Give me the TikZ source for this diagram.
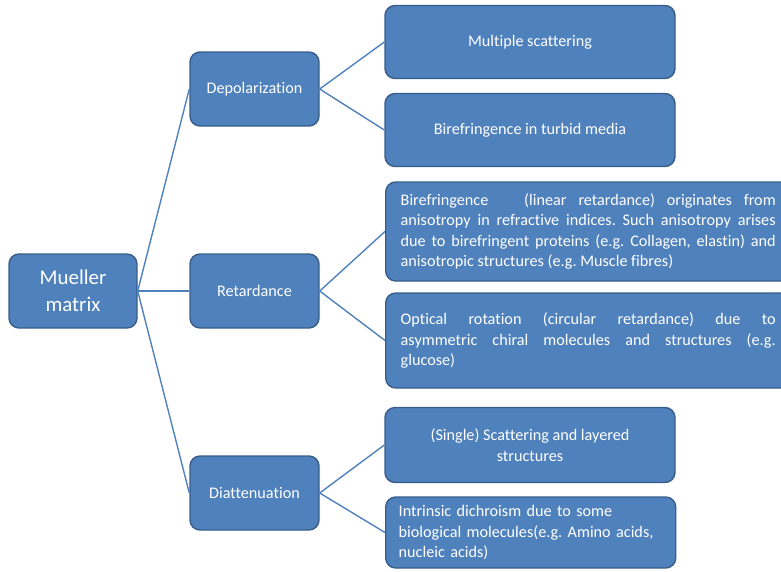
\documentclass[tikz,border=0pt]{standalone}
\usepackage{fontspec}
\setmainfont{Carlito}[Ligatures=NoCommon]
\frenchspacing
\definecolor{boxfill}{HTML}{4F81BD}
\definecolor{boxline}{HTML}{385D8A}
\definecolor{linkc}{HTML}{4F81BD}
\begin{document}
\begin{tikzpicture}[x=1pt,y=-1pt,
  box/.style={draw=boxline, line width=1.4pt, fill=boxfill, rounded corners=10pt,
    text=white, font=\fontsize{16.2}{20.5}\selectfont, inner sep=0pt, align=center},
  link/.style={draw=linkc, line width=1.4pt}]
\useasboundingbox (0,0) rectangle (781,571);
\clip (0,0) rectangle (781,571);
\node[box, minimum width=128pt, minimum height=74pt, font=\fontsize{21}{27}\selectfont] (mm) at (73,291) {Mueller\\matrix};
\node[box, minimum width=129pt, minimum height=74pt] (dep) at (254.5,89) {Depolarization};
\node[box, minimum width=129pt, minimum height=74pt] (ret) at (254.5,291) {Retardance};
\node[box, minimum width=129pt, minimum height=74pt] (dia) at (254.5,493) {Diattenuation};
\node[box, minimum width=290pt, minimum height=73pt] (ms) at (530,42) {Multiple scattering};
\node[box, minimum width=290pt, minimum height=73pt] (bt) at (530,130) {Birefringence in turbid media};
\node[box, anchor=west, text width=375pt, inner xsep=15pt, minimum height=99pt, align=justify] (bl) at (385,231.5)
 {Birefringence\ \ \ (linear retardance) originates from\linebreak
  anisotropy in refractive indices. Such anisotropy arises\linebreak
  due to birefringent proteins (e.g. Collagen, elastin) and\linebreak
  anisotropic structures (e.g. Muscle fibres)};
\node[box, anchor=west, text width=375pt, inner xsep=15pt, minimum height=95pt, align=justify] (or) at (385,340.5)
 {Optical rotation (circular retardance) due to\linebreak
  asymmetric chiral molecules and structures (e.g.\linebreak
  glucose)};
\node[box, minimum width=290pt, minimum height=75pt] (ss) at (530,445)
 {(Single) Scattering and layered\\structures};
\node[box, anchor=west, minimum width=290pt, minimum height=71pt, text width=264pt, inner xsep=13pt, align=left] (id) at (385,532.5)
 {Intrinsic dichroism due to some\\biological molecules(e.g. Amino acids,\\nucleic acids)};
\draw[link] (mm.east) -- (dep.west);
\draw[link] (mm.east) -- (ret.west);
\draw[link] (mm.east) -- (dia.west);
\draw[link] (dep.east) -- (ms.west);
\draw[link] (dep.east) -- (bt.west);
\draw[link] (ret.east) -- (bl.west);
\draw[link] (ret.east) -- (or.west);
\draw[link] (dia.east) -- (ss.west);
\draw[link] (dia.east) -- (id.west);
\end{tikzpicture}
\end{document}
